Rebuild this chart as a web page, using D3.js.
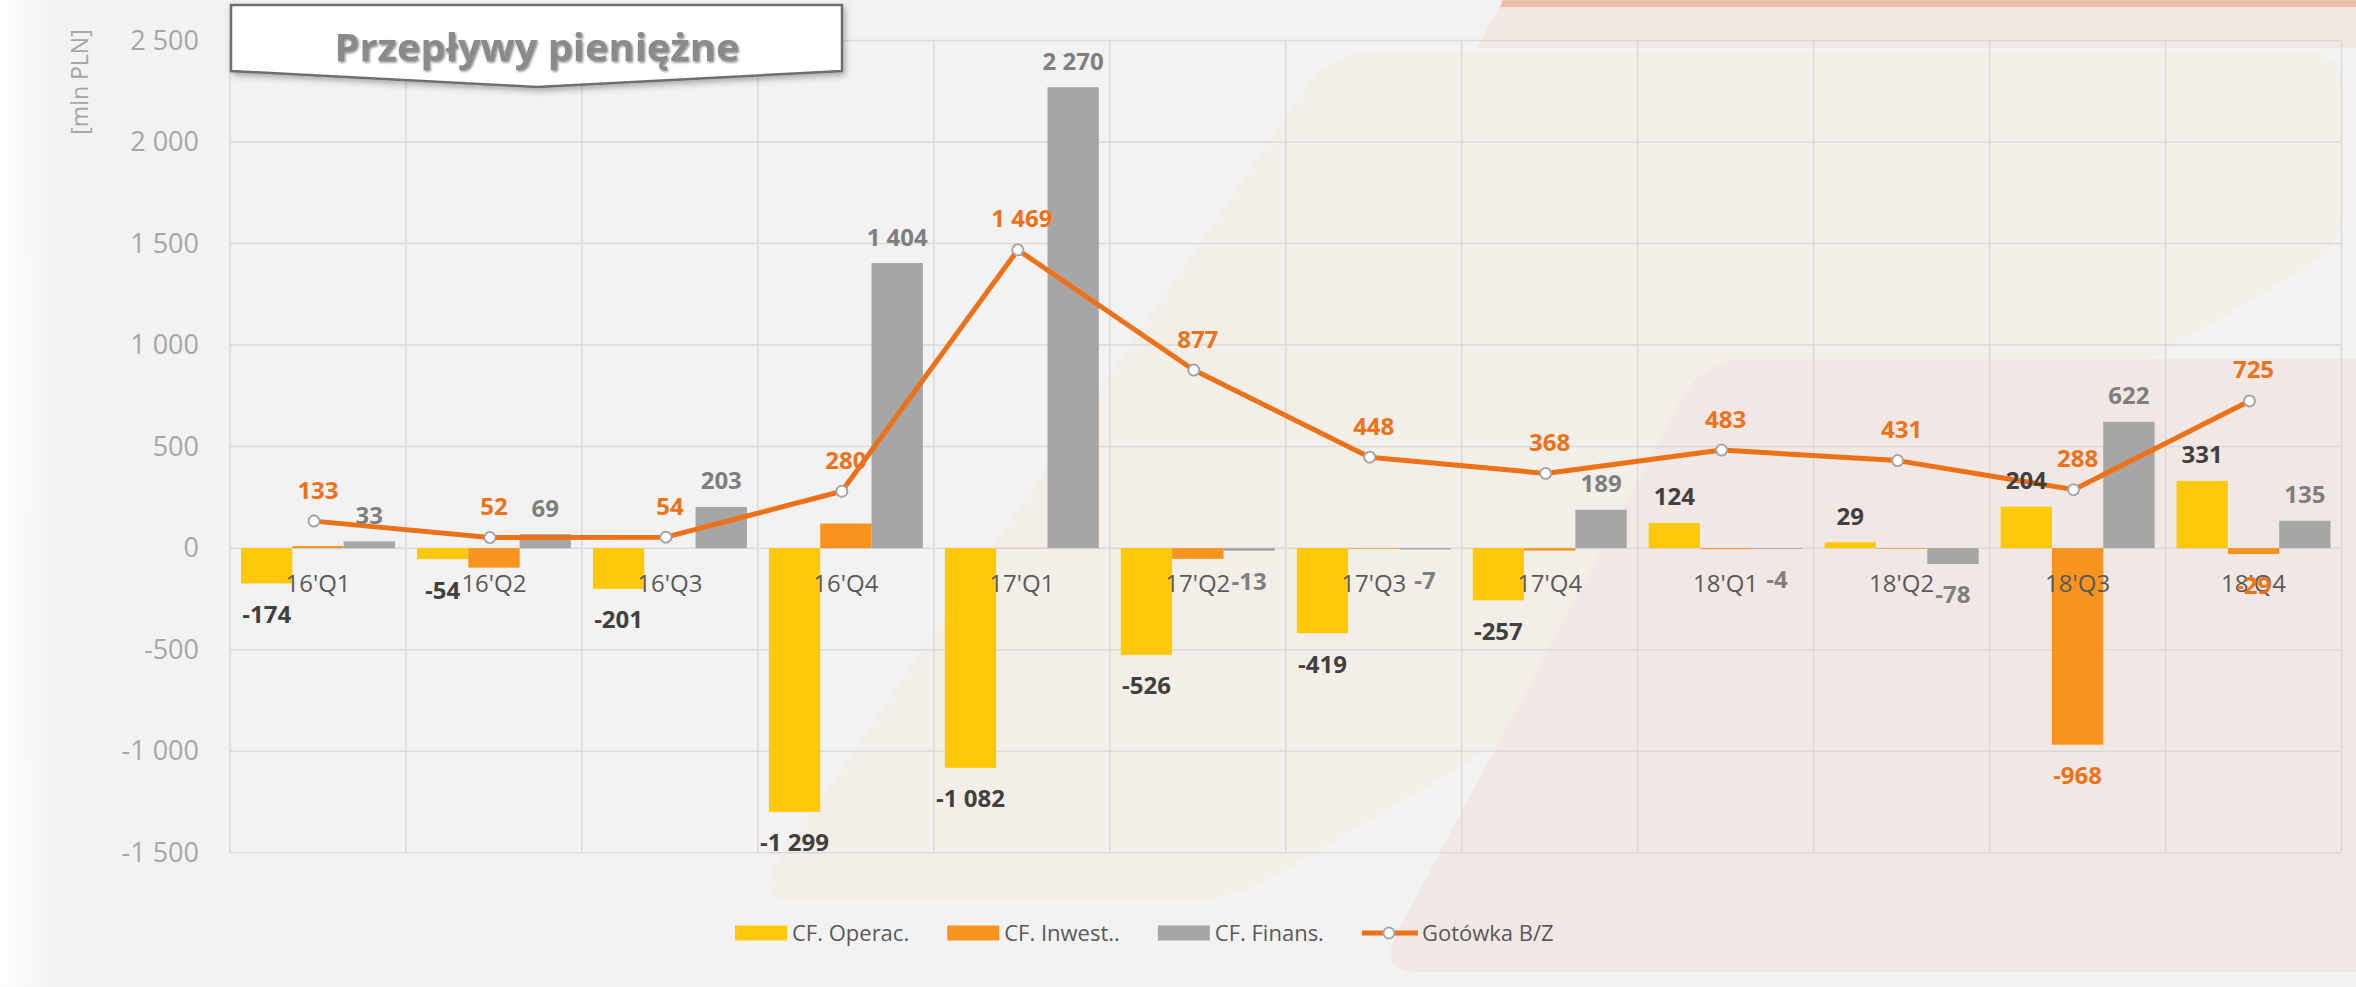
<!DOCTYPE html>
<html><head><meta charset="utf-8">
<script src="https://cdn.jsdelivr.net/npm/d3@7"></script>
<style>html,body{margin:0;padding:0;background:#F2F2F2;overflow:hidden}svg{display:block}</style>
</head><body><svg id="c" width="2356" height="987"></svg>
<script>
// ---------- DATA ----------
const categories = ["16'Q1","16'Q2","16'Q3","16'Q4","17'Q1","17'Q2","17'Q3","17'Q4","18'Q1","18'Q2","18'Q3","18'Q4"];
const cfOperac = [-174,-54,-201,-1299,-1082,-526,-419,-257,124,29,204,331];
const cfInwest = [10,-96,0,121,1,-53,-3,-12,-5,-3,-968,-29];
const cfFinans = [33,69,203,1404,2270,-13,-7,189,-4,-78,622,135];
const gotowka  = [133,52,54,280,1469,877,448,368,483,431,288,725];
const inwestLabelShown = [false,false,false,false,false,false,false,false,false,false,true,true];
const yTicks = [-1500,-1000,-500,0,500,1000,1500,2000,2500];
const seriesNames = ["CF. Operac.","CF. Inwest..","CF. Finans.","Gotówka B/Z"];
const titleText = "Przepływy pieniężne";
const yAxisTitle = "[mln PLN]";

// ---------- SETUP ----------
const FONT = "'Open Sans', 'Liberation Sans', sans-serif";
const C = {yellow:"#FFC90A", orange:"#F7931E", gray:"#A6A6A6", line:"#EC7118",
           lblDark:"#404040", lblGray:"#7F7F7F", lblOrange:"#EE7219", grid:"#D9D9D9"};
const svg = d3.select("#c");
const loc = d3.formatLocale({decimal:",", thousands:" ", grouping:[3], currency:["",""], minus:"-"});
const fmt = loc.format(",d");

const x0 = d3.scaleBand().domain(categories).range([230, 2341.5]).padding(0);
const x1 = d3.scaleBand().domain(["op","in","fi"]).range([11, 165]);
const y = d3.scaleLinear().domain([-1500, 2500]).range([852.7, 40.5]);
const cx = c => x0(c) + x0.bandwidth()/2;
const lineShift = -4;

// ---------- DEFS ----------
const defs = svg.append("defs");
const lg = defs.append("linearGradient").attr("id","leftGlow").attr("x1","0").attr("x2","1");
lg.append("stop").attr("offset","0").attr("stop-color","#ffffff").attr("stop-opacity",0.9);
lg.append("stop").attr("offset","1").attr("stop-color","#ffffff").attr("stop-opacity",0);
const f1 = defs.append("filter").attr("id","boxShadow").attr("x","-10%").attr("y","-30%").attr("width","120%").attr("height","170%");
f1.append("feDropShadow").attr("dx",2).attr("dy",3).attr("stdDeviation",3).attr("flood-color","#000").attr("flood-opacity",0.3);
const f2 = defs.append("filter").attr("id","txtShadow").attr("x","-5%").attr("y","-20%").attr("width","110%").attr("height","150%");
f2.append("feDropShadow").attr("dx",1.2).attr("dy",1.5).attr("stdDeviation",0.8).attr("flood-color","#222").attr("flood-opacity",0.55);

function roundedPoly(pts, r){
  let d = ""; const n = pts.length;
  for (let i=0;i<n;i++){
    const p0=pts[(i-1+n)%n], p1=pts[i], p2=pts[(i+1)%n];
    const v1=[p0[0]-p1[0],p0[1]-p1[1]], v2=[p2[0]-p1[0],p2[1]-p1[1]];
    const l1=Math.hypot(v1[0],v1[1]), l2=Math.hypot(v2[0],v2[1]);
    const rr=Math.min(r,l1/2,l2/2);
    const a=[p1[0]+v1[0]/l1*rr,p1[1]+v1[1]/l1*rr], b=[p1[0]+v2[0]/l2*rr,p1[1]+v2[1]/l2*rr];
    d += (i===0?"M":"L")+a[0]+","+a[1]+"Q"+p1[0]+","+p1[1]+" "+b[0]+","+b[1];
  }
  return d+"Z";
}

// ---------- BACKGROUND ----------
const bg = svg.append("g");
bg.append("rect").attr("width",2356).attr("height",987).attr("fill","#F2F2F2");
bg.append("rect").attr("x",0).attr("y",0).attr("width",60).attr("height",987).attr("fill","url(#leftGlow)");
bg.append("path").attr("d","M1503,0L2356,0L2356,48L1477,48Z").attr("fill","#F1E7E3");
bg.append("path").attr("d","M1503,0L2356,0L2356,7L1500,7Z").attr("fill","#EBC0AB");
bg.append("path").attr("d", roundedPoly([[752,900],[1330,52],[2345,52],[2345,245],[1235,900]], 45)).attr("fill","#F3EFE8");
bg.append("path").attr("d", roundedPoly([[1376,972],[1703,359],[2400,359],[2400,972]], 45)).attr("fill","#F1E8E5");

// ---------- GRID ----------
const grid = svg.append("g").attr("stroke", C.grid).attr("stroke-width", 1.5);
grid.selectAll("line.h").data(yTicks).join("line").attr("class","h")
  .attr("x1", x0.range()[0]).attr("x2", x0.range()[1]).attr("y1", d=>y(d)).attr("y2", d=>y(d));
const vx = categories.map(c=>x0(c)).concat([x0.range()[1]]);
grid.selectAll("line.v").data(vx).join("line").attr("class","v")
  .attr("x1", d=>d).attr("x2", d=>d).attr("y1", y(2500)).attr("y2", y(-1500));

// ---------- BARS ----------
const series = [
  {key:"op", vals:cfOperac, color:C.yellow},
  {key:"in", vals:cfInwest, color:C.orange},
  {key:"fi", vals:cfFinans, color:C.gray}
];
const bars = svg.append("g");
series.forEach(s=>{
  bars.selectAll("rect."+s.key).data(s.vals).join("rect").attr("class", s.key)
    .attr("x",(d,i)=>x0(categories[i])+x1(s.key))
    .attr("width", x1.bandwidth())
    .attr("y", d=>y(Math.max(0,d)))
    .attr("height", d=>Math.abs(y(d)-y(0)))
    .attr("fill", s.color);
});

// ---------- CATEGORY AXIS ----------
const xAxis = svg.append("g").attr("transform",`translate(0,${y(0)})`)
  .call(d3.axisBottom(x0).tickSize(0).tickPadding(27));
xAxis.select(".domain").remove();
xAxis.selectAll("text").attr("font-family",FONT).attr("font-size",24).attr("fill","#595959");

// ---------- LINE ----------
const line = d3.line().x((d,i)=>cx(categories[i])+lineShift).y(d=>y(d));
svg.append("path").datum(gotowka).attr("d", line).attr("fill","none")
  .attr("stroke", C.line).attr("stroke-width",5).attr("stroke-linejoin","round");
svg.append("g").selectAll("circle").data(gotowka).join("circle")
  .attr("cx",(d,i)=>cx(categories[i])+lineShift).attr("cy",d=>y(d)).attr("r",5.5)
  .attr("fill","#fff").attr("stroke","#A6A6A6").attr("stroke-width",2);

// ---------- DATA LABELS ----------
const lbl = svg.append("g").attr("font-family",FONT).attr("font-size",24).attr("font-weight",700).attr("text-anchor","middle");
function barLabelY(v){ return v>=0 ? y(v)-26+8.5 : y(v)+31+8.5; }
const lblSeries = [
  {key:"op", vals:cfOperac, color:C.lblDark, show:cfOperac.map(()=>true)},
  {key:"in", vals:cfInwest, color:C.lblOrange, show:inwestLabelShown},
  {key:"fi", vals:cfFinans, color:C.lblGray, show:cfFinans.map(()=>true)}
];
lblSeries.forEach(s=>{
  const data = s.vals.map((v,i)=>({v,i})).filter(d=>s.show[d.i]);
  lbl.selectAll("text."+s.key).data(data).join("text").attr("class",s.key)
    .attr("x", d=>x0(categories[d.i])+x1(s.key)+x1.bandwidth()/2)
    .attr("y", d=>barLabelY(d.v))
    .attr("fill", s.color).text(d=>fmt(d.v));
});
lbl.selectAll("text.g").data(gotowka).join("text").attr("class","g")
  .attr("x",(d,i)=>cx(categories[i])).attr("y",d=>y(d)-22.5)
  .attr("fill",C.lblOrange).text(d=>fmt(d));

// ---------- Y AXIS ----------
const yAxis = svg.append("g").attr("transform",`translate(${x0.range()[0]},0)`)
  .call(d3.axisLeft(y).tickValues(yTicks).tickFormat(fmt).tickSize(0).tickPadding(31));
yAxis.select(".domain").remove();
yAxis.selectAll("text").attr("font-family",FONT).attr("font-size",27).attr("fill","#A6A6A6");
svg.append("text").attr("transform","translate(80,82) rotate(-90)")
  .attr("text-anchor","middle").attr("dy","0.35em")
  .attr("font-family",FONT).attr("font-size",23).attr("fill","#A6A6A6").text(yAxisTitle);

// ---------- TITLE ----------
const tg = svg.append("g");
tg.append("path").attr("d","M231,5L842,5L842,71L537,87L231,71Z")
  .attr("fill","#fff").attr("stroke","#6E6E6E").attr("stroke-width",2.5).attr("filter","url(#boxShadow)");
tg.append("text").attr("x",537).attr("y",61).attr("text-anchor","middle")
  .attr("font-family",FONT).attr("font-weight",700).attr("font-size",38)
  .attr("textLength",405).attr("lengthAdjust","spacingAndGlyphs")
  .attr("fill","#8A8A8A").attr("filter","url(#txtShadow)").text(titleText);

// ---------- LEGEND ----------
const leg = svg.append("g").attr("font-family",FONT).attr("font-size",22).attr("fill","#595959");
const legColors = [C.yellow, C.orange, C.gray, C.line];
let lx = 735; const ly = 933;
seriesNames.forEach((name,i)=>{
  const isLine = i===3;
  if (isLine){
    leg.append("line").attr("x1",lx).attr("x2",lx+56).attr("y1",ly).attr("y2",ly)
      .attr("stroke",C.line).attr("stroke-width",5);
    leg.append("circle").attr("cx",lx+27).attr("cy",ly).attr("r",5.5)
      .attr("fill","#fff").attr("stroke","#A6A6A6").attr("stroke-width",2);
  } else {
    leg.append("rect").attr("x",lx).attr("y",ly-7.5).attr("width",52).attr("height",15).attr("fill",legColors[i]);
  }
  const tx = lx + (isLine?60:57);
  const t = leg.append("text").attr("x",tx).attr("y",ly+8).text(name);
  const w = t.node().getComputedTextLength();
  lx = tx + w + 38;
});
</script></body></html>
